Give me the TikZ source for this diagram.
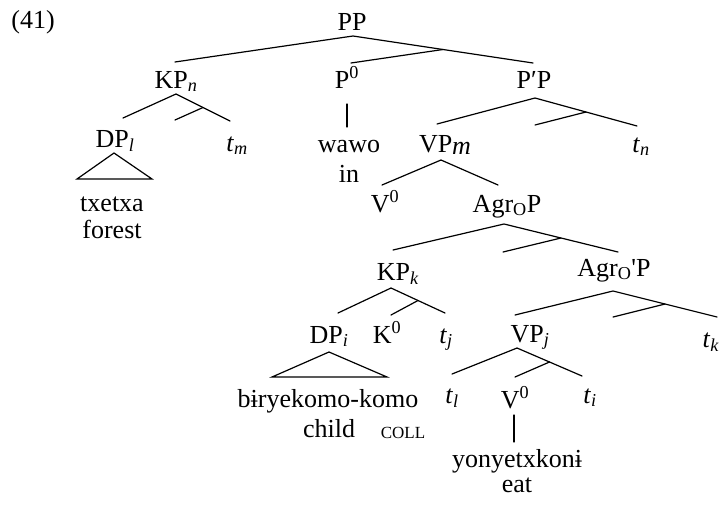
\documentclass[tikz,border=0pt]{standalone}
\usepackage{fontspec}
\setmainfont{Liberation Serif}
\usetikzlibrary{calc}
\newcommand\sbi[1]{\textsubscript{\textit{#1}}}
\newcommand\spz{\textsuperscript{0}}
\begin{document}
\begin{tikzpicture}[x=1pt,y=-1pt,
  lab/.style={anchor=base, inner sep=0pt, font=\fontsize{26}{30}\selectfont},
  br/.style={line width=1.2pt, line cap=round}]
\useasboundingbox (0,0) rectangle (722,506);
% labels
\node[lab] (ex) at (33,28) {(41)};
\node[lab] (PP) at (352,30) {PP};
\node[lab] (KPn) at (176,88) {KP\sbi{n}};
\node[lab] (P0) at (347,88) {P\spz};
\node[lab] (PpP) at (534,88) {P′P};
\node[lab] (DPl) at (115,147) {DP\sbi{l}};
\node[lab] (tm) at (237,151) {\textit{t}\sbi{m}};
\node[lab] (wawo) at (349,152) {wawo};
\node[lab] (in) at (349,182) {in};
\node[lab] (VPm) at (445,152) {VP\raisebox{-2pt}{\textit{m}}};
\node[lab] (tn) at (641,152) {\textit{t}\sbi{n}};
\node[lab] (txetxa) at (112,211) {txetxa};
\node[lab] (forest) at (112,238) {forest};
\node[lab] (V0a) at (385,212) {V\spz};
\node[lab] (AgrOP) at (507,212) {Agr\textsubscript{O}P};
\node[lab] (KPk) at (398,280) {KP\sbi{k}};
\node[lab] (AgrOpP) at (614,276) {Agr\textsubscript{O}\textquotesingle P};
\node[lab] (DPi) at (329,343) {DP\sbi{i}};
\node[lab] (K0) at (387,343) {K\spz};
\node[lab] (tj) at (446,343) {\textit{t}\sbi{j}};
\node[lab] (VPj) at (530,342) {VP\sbi{j}};
\node[lab] (tk) at (711,347) {\textit{t}\sbi{k}};
\node[lab] (biry) at (328,407) {bɨryekomo-komo};
\node[lab] (tl) at (452,403) {\textit{t}\sbi{l}};
\node[lab] (V0b) at (515,408) {V\spz};
\node[lab] (ti) at (590,403) {\textit{t}\sbi{i}};
\node[lab] (child) at (329,437) {child};
\node[lab, font=\fontsize{17}{20}\selectfont] (coll) at (403,438) {COLL};
\node[lab] (yony) at (517,467) {yonyetxkonɨ};
\node[lab] (eat) at (517,492) {eat};
% branch points
\coordinate (PPa) at (353,36);
\coordinate (PPl) at (175,62);
\coordinate (PPr) at (533,63);
\coordinate (PPm) at (351,63);
\coordinate (KPna) at (176,94);
\coordinate (KPnl) at (123,118);
\coordinate (KPnr) at (230,121);
\coordinate (KPnm) at (175,120);
\coordinate (P0t) at (347,104);
\coordinate (P0b) at (347,127);
\coordinate (DPla) at (114,153);
\coordinate (DPll) at (77,179);
\coordinate (DPlr) at (152,179);
\coordinate (PpPa) at (535,98);
\coordinate (PpPl) at (437,124);
\coordinate (PpPr) at (637,126);
\coordinate (PpPm) at (535,125);
\coordinate (VPma) at (441,160);
\coordinate (VPml) at (382,185);
\coordinate (VPmr) at (498,185);
\coordinate (AOa) at (504,224);
\coordinate (AOl) at (393,250);
\coordinate (AOr) at (618,252);
\coordinate (AOm) at (503,252);
\coordinate (KPka) at (391,288);
\coordinate (KPkl) at (338,313);
\coordinate (KPkr) at (445,313);
\coordinate (KPkm) at (391,315);
\coordinate (DPia) at (329,352);
\coordinate (DPil) at (272,377);
\coordinate (DPir) at (387,377);
\coordinate (AOpa) at (613,291);
\coordinate (AOpl) at (515,315);
\coordinate (AOpr) at (717,317);
\coordinate (AOpm) at (613,317);
\coordinate (VPja) at (517,348);
\coordinate (VPjl) at (452,374);
\coordinate (VPjr) at (582,376);
\coordinate (VPjm) at (515,377);
\coordinate (V0t) at (514,415);
\coordinate (V0bb) at (514,442);
% branches
\draw[br] (PPl) -- (PPa) -- (PPr);
\draw[br] ($(PPa)!0.5!(PPr)$) -- (PPm);
\draw[br] (KPnl) -- (KPna) -- (KPnr);
\draw[br] ($(KPna)!0.5!(KPnr)$) -- (KPnm);
\draw[br] (P0t) -- (P0b);
\draw[br] (DPla) -- (DPll) -- (DPlr) -- cycle;
\draw[br] (PpPl) -- (PpPa) -- (PpPr);
\draw[br] ($(PpPa)!0.5!(PpPr)$) -- (PpPm);
\draw[br] (VPml) -- (VPma) -- (VPmr);
\draw[br] (AOl) -- (AOa) -- (AOr);
\draw[br] ($(AOa)!0.5!(AOr)$) -- (AOm);
\draw[br] (KPkl) -- (KPka) -- (KPkr);
\draw[br] ($(KPka)!0.5!(KPkr)$) -- (KPkm);
\draw[br] (DPia) -- (DPil) -- (DPir) -- cycle;
\draw[br] (AOpl) -- (AOpa) -- (AOpr);
\draw[br] ($(AOpa)!0.5!(AOpr)$) -- (AOpm);
\draw[br] (VPjl) -- (VPja) -- (VPjr);
\draw[br] ($(VPja)!0.5!(VPjr)$) -- (VPjm);
\draw[br] (V0t) -- (V0bb);
\end{tikzpicture}
\end{document}
